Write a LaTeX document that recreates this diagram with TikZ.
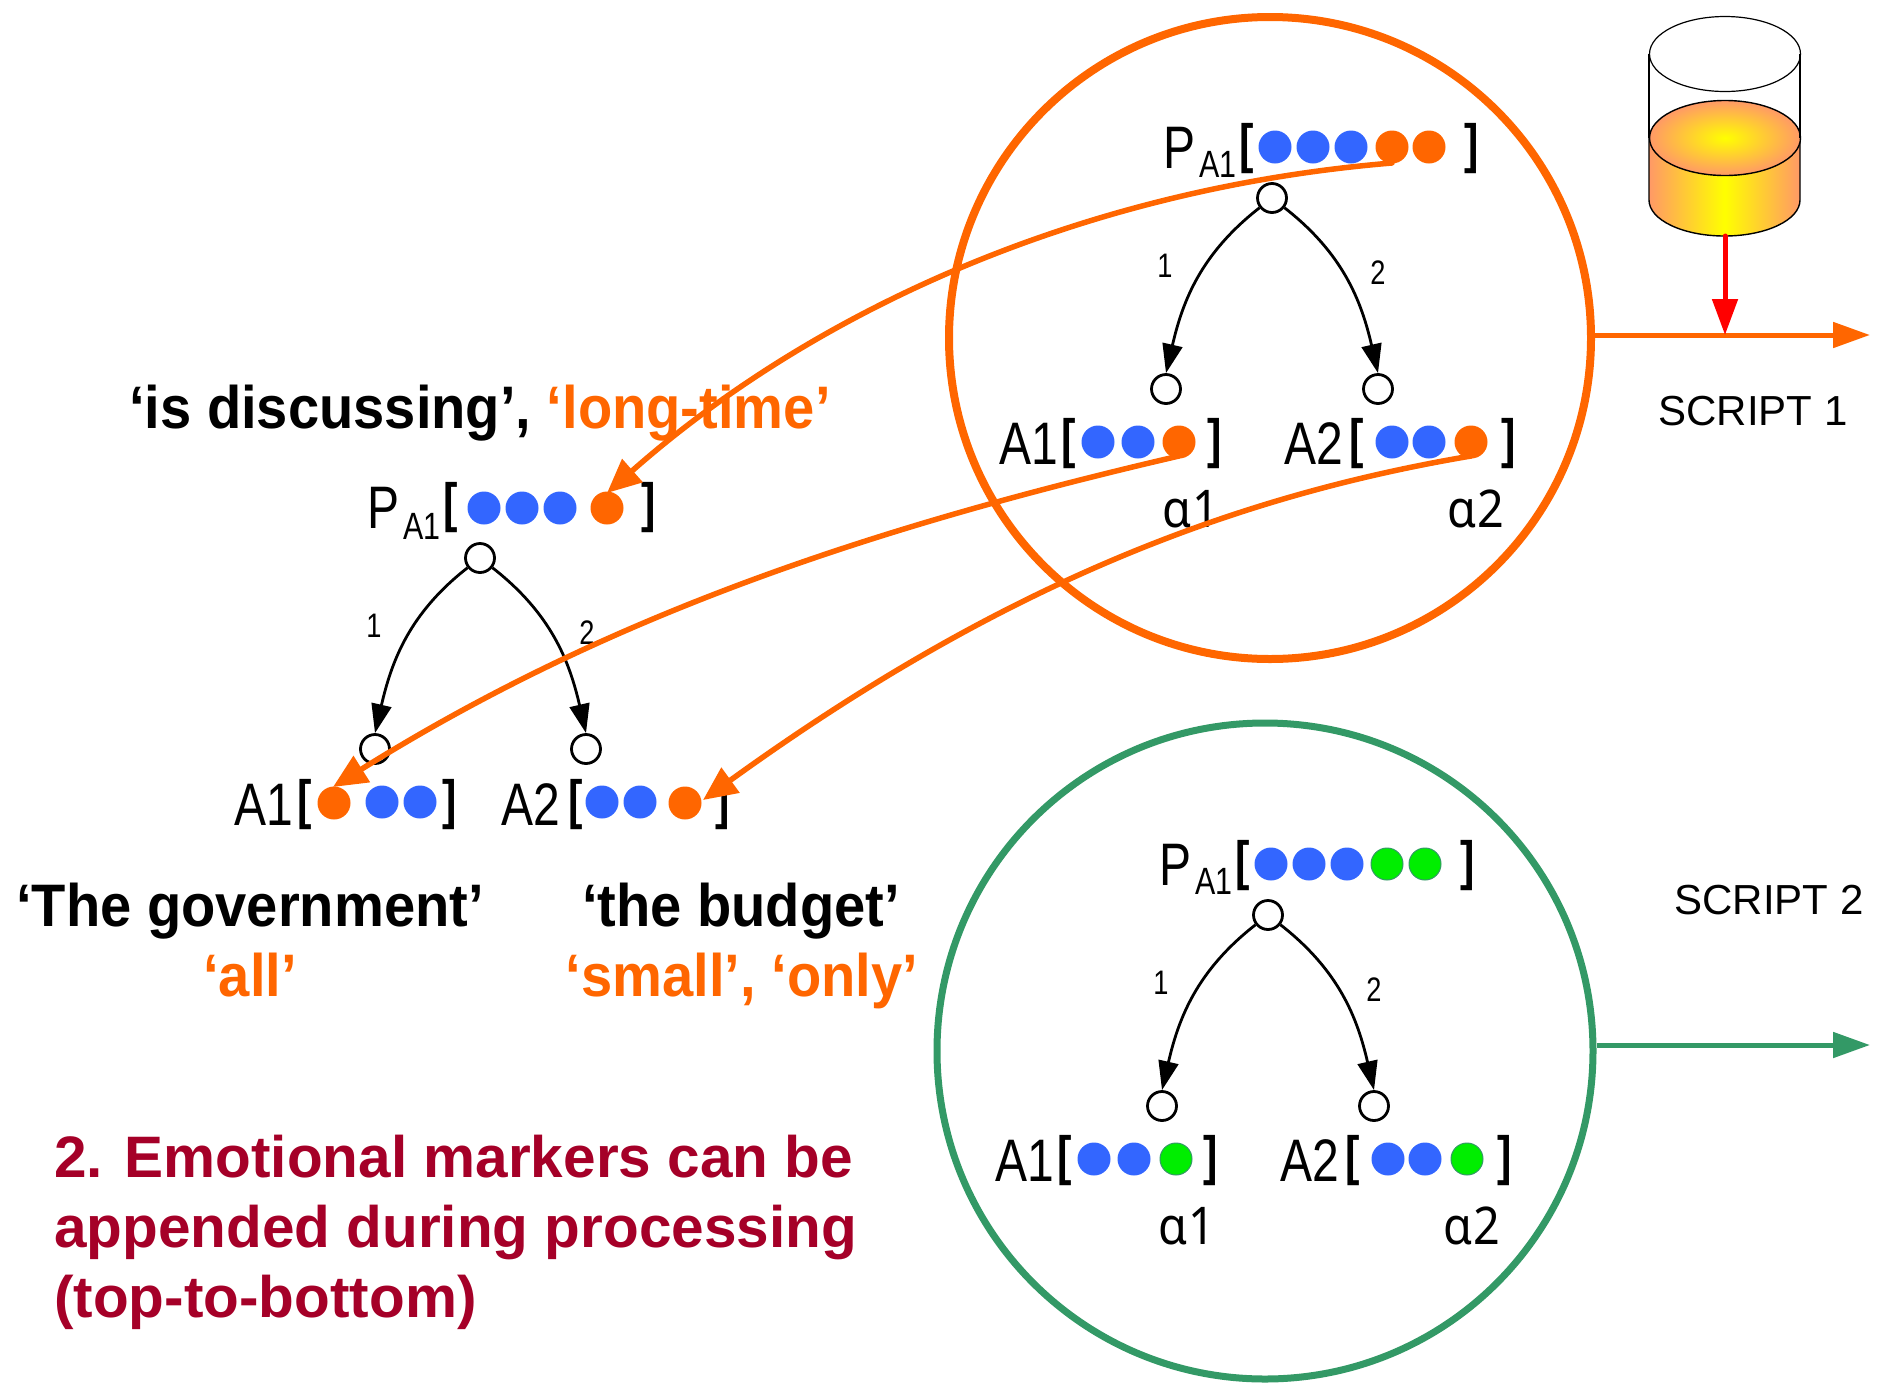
\documentclass[tikz,border=0pt]{standalone}
\usepackage{fontspec}
\setmainfont{Liberation Sans}
\newfontfamily\din[FakeStretch=0.8]{Liberation Sans}
\newfontfamily\ipa[FakeStretch=0.9,LetterSpace=3]{Noto Sans}
\newfontfamily\qf[FakeStretch=0.935]{Liberation Sans}
\usetikzlibrary{arrows.meta,calc}
\definecolor{org}{HTML}{FF6600}
\definecolor{blu}{HTML}{3366FF}
\definecolor{grn}{HTML}{00EE00}
\definecolor{cgreen}{HTML}{339966}
\definecolor{crim}{HTML}{A50028}
\definecolor{palo}{HTML}{FF9966}
\tikzset{
 x=1pt,y=-1pt,
 dotb/.style={circle,fill=blu,inner sep=0pt,minimum size=33pt},
 doto/.style={circle,fill=org,inner sep=0pt,minimum size=33pt},
 dotg/.style={circle,fill=grn,draw=cgreen,line width=1pt,inner sep=0pt,minimum size=32pt},
 hollow/.style={circle,draw=black,fill=white,line width=2.8pt,inner sep=0pt,minimum size=29pt},
 lab/.style={inner sep=0pt,font=\din\fontsize{60}{60}\selectfont,anchor=base west},
 brk/.style={inner sep=0pt,font=\din\bfseries\fontsize{54}{54}\selectfont,anchor=base},
 sublab/.style={inner sep=0pt,font=\din\fontsize{38}{38}\selectfont,anchor=base west},
 num/.style={inner sep=0pt,font=\din\fontsize{34}{34}\selectfont},
 alph/.style={inner sep=0pt,font=\ipa\fontsize{52}{52}\selectfont},
 edge/.style={line width=2.8pt,-{Triangle[length=29pt,width=20pt]}},
 lead/.style={org,line width=5.5pt,-{Triangle[length=34pt,width=30pt]}},
 quote/.style={inner sep=0pt,font=\qf\bfseries\fontsize{60}{60}\selectfont},
 script/.style={inner sep=0pt,font=\fontsize{42}{42}\selectfont},
 msgline/.style={inner sep=0pt,anchor=base west,text=crim,font=\bfseries\fontsize{58.5}{58.5}\selectfont},
}
\newcommand{\treeparts}[3]{% x offset, y offset, prefix
 \begin{scope}[shift={(#1,#2)}]
  \node[hollow] (#3r) at (1272,198) {};
  \node[hollow] (#3l) at (1166,389) {};
  \node[hollow] (#3m) at (1378,389) {};
  \draw[edge] (#3r.218) to[out=218,in=77] (#3l.north);
  \draw[edge] (#3r.-38) to[out=-38,in=103] (#3m.north);
  \node[num] (#3one) at (1165,266) {1};
  \node[num] (#3two) at (1378,273) {2};
  \node[lab] (#3P) at (1163,168) {P};
  \node[sublab] (#3s) at (1199,177) {A1};
  \node[brk] (#3ob) at (1247,162) {[};
  \node[brk] (#3cb) at (1472,162) {]};
  \node[dotb] (#3d1) at (1275,147) {};
  \node[dotb] (#3d2) at (1313,147) {};
  \node[dotb] (#3d3) at (1351,147) {};
  \node[lab] (#3A) at (999,464) {A1};
  \node[brk] (#3Ao) at (1069,457) {[};
  \node[brk] (#3Ac) at (1215,457) {]};
  \node[dotb] (#3a1) at (1098,442) {};
  \node[dotb] (#3a2) at (1138,442) {};
  \node[lab] (#3B) at (1284,464) {A2};
  \node[brk] (#3Bo) at (1357,457) {[};
  \node[brk] (#3Bc) at (1509,457) {]};
  \node[dotb] (#3b1) at (1392,442) {};
  \node[dotb] (#3b2) at (1429,442) {};
  \node[alph] (#3al) at (1191,509) {ɑ1};
  \node[alph] (#3am) at (1476,509) {ɑ2};
 \end{scope}}
\begin{document}
\begin{tikzpicture}
\useasboundingbox (0,0) rectangle (1877,1382);
% circles
\node[circle,draw=org,line width=8pt,inner sep=0pt,minimum size=642pt] (c1) at (1270,338) {};
\node[circle,draw=cgreen,line width=7pt,inner sep=0pt,minimum size=656pt] (c2) at (1265,1051) {};
% top tree
\treeparts{0}{0}{u}
\node[doto] (ud4) at (1392,147) {};
\node[doto] (ud5) at (1429,147) {};
\node[doto] (ua3) at (1179,442) {};
\node[doto] (ub3) at (1471,442) {};
% bottom tree
\treeparts{-4}{717}{v}
\node[dotg] (vd4) at (1387,864) {};
\node[dotg] (vd5) at (1425,864) {};
\node[dotg] (va3) at (1176,1159) {};
\node[dotg] (vb3) at (1467,1159) {};
% left tree
\node[hollow] (lr) at (480,558) {};
\node[hollow] (ll) at (375,749) {};
\node[hollow] (lm) at (586,749) {};
\draw[edge] (lr.218) to[out=218,in=77] (ll.north);
\draw[edge] (lr.-38) to[out=-38,in=103] (lm.north);
\node[num] (lone) at (374,626) {1};
\node[num] (ltwo) at (587,633) {2};
\node[lab] (lP) at (367,528) {P};
\node[sublab] (ls) at (403,539) {A1};
\node[brk] (lob) at (451,521) {[};
\node[brk] (lcb) at (649,521) {]};
\node[dotb] (ld1) at (484,508) {};
\node[dotb] (ld2) at (522,508) {};
\node[dotb] (ld3) at (560,508) {};
\node[doto] (ld4) at (607,508) {};
\node[lab] (lA) at (234,825) {A1};
\node[brk] (lAo) at (305,818) {[};
\node[brk] (lAc) at (450,818) {]};
\node[doto] (la1) at (334,803) {};
\node[dotb] (la2) at (382,802) {};
\node[dotb] (la3) at (420,802) {};
\node[lab] (lB) at (501,825) {A2};
\node[brk] (lBo) at (576,818) {[};
\node[brk] (lBc) at (723,818) {]};
\node[dotb] (lb1) at (602,802) {};
\node[dotb] (lb2) at (640,802) {};
\node[doto] (lb3) at (685,803) {};
% leading curves
\coordinate (s1) at (1392,163);
\coordinate (t1) at (607,493);
\coordinate (s2) at (1179,456);
\coordinate (t2) at (333,787);
\coordinate (s3) at (1471,456);
\coordinate (t3) at (703,800);
\draw[lead,line cap=round] (s1) .. controls (1090,188) and (820,305) .. (t1);
\draw[lead,line cap=round] (s2) .. controls (860,530) and (600,620) .. (t2);
\draw[lead,line cap=round] (s3) .. controls (1210,500) and (980,600) .. (t3);
% cylinder
\shade[left color=palo,right color=palo,middle color=yellow]
  (1649,138) -- (1649,200) arc[start angle=180,end angle=360,x radius=75.5pt,y radius=36pt] -- (1800,138) -- cycle;
\draw[line width=1.4pt] (1649,138) -- (1649,200) arc[start angle=180,end angle=360,x radius=75.5pt,y radius=36pt] -- (1800,138);
\shade[inner color=yellow,outer color=palo] (1725,138) ellipse[x radius=75.5pt,y radius=37.5pt];
\draw[line width=1.4pt] (1725,138) ellipse[x radius=75.5pt,y radius=37.5pt];
\draw[line width=1.2pt] (1725,54) ellipse[x radius=75.5pt,y radius=37.5pt];
\draw[line width=1.2pt] (1649,54) -- (1649,138);
\draw[line width=1.2pt] (1800,54) -- (1800,138);
\coordinate (cylb) at (1725,236);
% right arrows
\coordinate (e1) at (1870,335);
\coordinate (e2) at (1870,1045);
\coordinate (h1) at (1725,335);
\draw[org,line width=5pt,-{Triangle[length=37pt,width=25pt]}] (c1.east |- e1) -- (e1);
\draw[cgreen,line width=5pt,-{Triangle[length=37pt,width=25pt]}] (c2.east |- e2) -- (e2);
\draw[red,line width=5pt,-{Triangle[length=36pt,width=25pt]},line cap=round] (cylb) -- (h1);
% labels
\node[script] (sc1) at (1753,411) {SCRIPT 1};
\node[script] (sc2) at (1769,900) {SCRIPT 2};
\node[quote,anchor=base west] (q1) at (129,428) {‘is discussing’, \textcolor{org}{‘long-time’}};
\node[quote,anchor=base] (q2) at (250,926) {‘The government’};
\node[quote,anchor=base,text=org] (q3) at (250,996) {‘all’};
\node[quote,anchor=base] (q4) at (741,926) {‘the budget’};
\node[quote,anchor=base,text=org] (q5) at (742,996) {‘small’, ‘only’};
\node[msgline] (m1) at (54,1177) {2. Emotional markers can be};
\node[msgline] (m2) at (54,1247) {appended during processing};
\node[msgline] (m3) at (54,1317) {(top-to-bottom)};
\end{tikzpicture}
\end{document}
